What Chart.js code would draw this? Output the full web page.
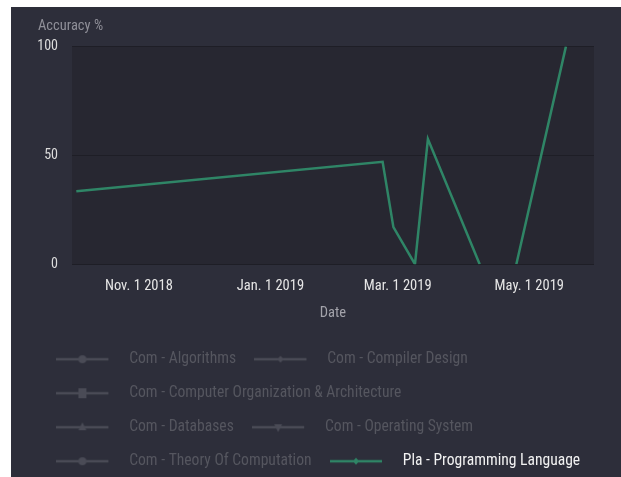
<!DOCTYPE html>
<html>
<head>
<meta charset="utf-8">
<script src="https://cdn.jsdelivr.net/npm/chart.js@4/dist/chart.umd.min.js"></script>
<style>
  body { margin: 0; background: #fff; }
  #wrap { position: absolute; left: 11px; top: 7px; width: 610px; height: 470px; overflow: hidden; background: #2d2e3a; }
</style>
</head>
<body>
<div id="wrap"><canvas id="myChart" width="610" height="472"></canvas></div>
<script>
const FONT = "'Roboto Condensed', 'Liberation Sans Narrow', Roboto, sans-serif"

// data
const dates = ['2018-10-03', '2019-02-22', '2019-02-27', '2019-03-09', '2019-03-15', '2019-04-08', '2019-04-16', '2019-04-25', '2019-05-18']
const accuracy = [33.5, 47, 17, 0, 57.5, 0, null, 0, 100]

const seriesNames = [
  'Com - Algorithms',
  'Com - Compiler Design',
  'Com - Computer Organization & Architecture',
  'Com - Databases',
  'Com - Operating System',
  'Com - Theory Of Computation',
  'Pla - Programming Language'
]
const seriesMarkers = ['circle', 'rectRot', 'rect', 'triangle', 'triangleDown', 'circle', 'rectRot']
const tickDates = ['2018-11-01', '2019-01-01', '2019-03-01', '2019-05-01']
const tickLabels = ['Nov. 1 2018', 'Jan. 1 2019', 'Mar. 1 2019', 'May. 1 2019']
const yTicks = [0, 50, 100]

const GREEN = '#2f8566'
const DIM = '#4a4b56'

// little line + marker pictures for the legend
function legendIcon(marker, color) {
  const c = document.createElement('canvas')
  c.width = 65
  c.height = 14
  const g = c.getContext('2d')
  g.strokeStyle = color
  g.fillStyle = color
  g.lineWidth = 2.5
  g.beginPath()
  g.moveTo(0, 7)
  g.lineTo(52, 7)
  g.stroke()
  const cx = 26, cy = 7
  g.beginPath()
  if (marker == 'circle') {
    g.arc(cx, cy, 4, 0, Math.PI * 2)
  } else if (marker == 'rectRot') {
    g.moveTo(cx, cy - 3.5); g.lineTo(cx + 3, cy); g.lineTo(cx, cy + 3.5); g.lineTo(cx - 3, cy)
  } else if (marker == 'rect') {
    g.rect(cx - 4, cy - 5, 8, 10)
  } else if (marker == 'triangle') {
    g.moveTo(cx, cy - 5); g.lineTo(cx + 4, cy + 3); g.lineTo(cx - 4, cy + 3)
  } else if (marker == 'triangleDown') {
    g.moveTo(cx, cy + 5); g.lineTo(cx + 4, cy - 3); g.lineTo(cx - 4, cy - 3)
  }
  g.closePath()
  g.fill()
  return c
}

const datasets = seriesNames.map((name, i) => {
  const last = i == seriesNames.length - 1
  return {
    label: name,
    data: last ? dates.map((d, j) => ({ x: Date.parse(d), y: accuracy[j] })) : [],
    hidden: !last,
    borderColor: last ? GREEN : DIM,
    backgroundColor: last ? GREEN : DIM,
    borderWidth: 2.5,
    pointRadius: 0,
    tension: 0,
    spanGaps: false
  }
})

const plotBg = {
  id: 'plotBg',
  beforeDraw(chart) {
    const { ctx, chartArea } = chart
    ctx.save()
    ctx.fillStyle = '#272731'
    ctx.fillRect(chartArea.left, chartArea.top, chartArea.right - chartArea.left, chartArea.bottom - chartArea.top)
    ctx.restore()
  }
}

const ctx = document.getElementById('myChart').getContext('2d')

const config = {
  type: 'line',
  data: { datasets },
  plugins: [plotBg],
  options: {
    responsive: false,
    animation: false,
    layout: { padding: { left: 27, right: 17, top: 0, bottom: 0 } },
    scales: {
      x: {
        type: 'linear',
        min: Date.parse('2018-10-01'),
        max: Date.parse('2019-05-31'),
        afterBuildTicks(scale) {
          scale.ticks = tickDates.map(d => ({ value: Date.parse(d) }))
        },
        afterFit(scale) {
          scale.paddingLeft = 0
          scale.paddingRight = 27
        },
        ticks: {
          color: '#e6e6e6',
          font: { family: FONT, size: 14.5 },
          padding: 13,
          maxRotation: 0,
          callback: (v, i) => tickLabels[i]
        },
        grid: { display: false, drawTicks: false },
        border: { display: false },
        title: {
          display: true,
          text: 'Date',
          color: '#a3a3aa',
          font: { family: FONT, size: 14.5 },
          padding: { top: -3, bottom: 11 }
        }
      },
      y: {
        min: 0,
        max: 100,
        afterBuildTicks(scale) {
          scale.ticks = yTicks.map(v => ({ value: v }))
        },
        afterFit(scale) {
          scale.width = 34
        },
        ticks: {
          color: '#dcdcdc',
          font: { family: FONT, size: 14 },
          padding: 14
        },
        grid: { color: '#1e1e26', lineWidth: 1, drawTicks: false },
        border: { display: false }
      }
    },
    plugins: {
      title: {
        display: true,
        text: 'Accuracy %',
        align: 'start',
        color: '#8f8f98',
        font: { family: FONT, size: 14.5, weight: 'normal' },
        padding: { top: 11, bottom: 11 }
      },
      tooltip: { enabled: false },
      legend: {
        position: 'bottom',
        align: 'start',
        onClick: null,
        labels: {
          usePointStyle: true,
          pointStyleWidth: 65,
          padding: 18.4,
          font: { family: FONT, size: 15.6 },
          generateLabels(chart) {
            return chart.data.datasets.map((ds, i) => ({
              text: ds.label,
              datasetIndex: i,
              hidden: false,
              fontColor: ds.hidden ? '#55565f' : '#f2f2f2',
              pointStyle: legendIcon(seriesMarkers[i], ds.hidden ? DIM : GREEN),
              fillStyle: 'transparent',
              strokeStyle: 'transparent',
              lineWidth: 0
            }))
          }
        }
      }
    }
  }
}

const myChart = new Chart(ctx, config)
</script>
</body>
</html>
